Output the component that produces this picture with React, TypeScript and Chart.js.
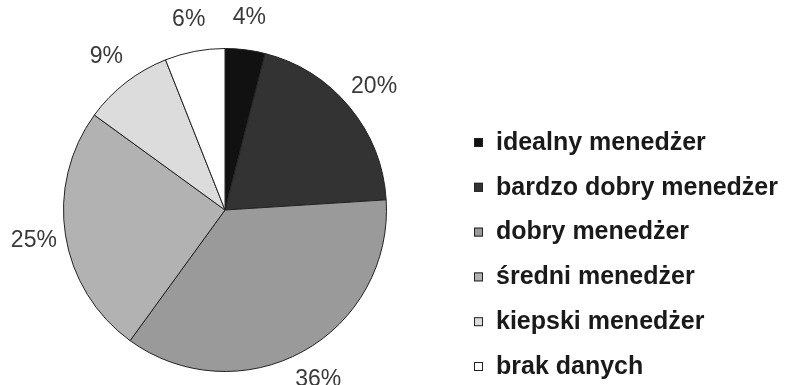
import { useEffect, useRef } from "react";
import { Chart, registerables } from "chart.js";

Chart.register(...registerables);

const categories = [
  "idealny menedżer",
  "bardzo dobry menedżer",
  "dobry menedżer",
  "średni menedżer",
  "kiepski menedżer",
  "brak danych",
];
const shares = [4, 20, 36, 25, 9, 6];
const percentLabels = ["4%", "20%", "36%", "25%", "9%", "6%"];
const sliceColors = ["#111111", "#333333", "#9a9a9a", "#b2b2b2", "#dcdcdc", "#ffffff"];

const FONT = "'Liberation Sans', Arial, sans-serif";

const sliceLabelPlugin = {
  id: "sliceLabels",
  afterDatasetsDraw(chart: any) {
    const ctx = chart.ctx;
    const meta = chart.getDatasetMeta(0);
    ctx.save();
    ctx.font = `23px ${FONT}`;
    ctx.fillStyle = "#3a3a3a";
    ctx.textAlign = "center";
    ctx.textBaseline = "middle";
    meta.data.forEach((arc: any, i: number) => {
      const p = arc.getProps(["x", "y", "startAngle", "endAngle", "outerRadius"], true);
      const mid = (p.startAngle + p.endAngle) / 2;
      const R = p.outerRadius + 32;
      ctx.fillText(percentLabels[i], p.x + Math.cos(mid) * R, p.y + Math.sin(mid) * R);
    });
    ctx.restore();
  },
};

const legendPlugin = {
  id: "sideLegend",
  afterDraw(chart: any) {
    const ctx = chart.ctx;
    const labels = chart.data.labels as string[];
    const colors = chart.data.datasets[0].backgroundColor as string[];
    const x0 = 474;
    const y0 = 142;
    const step = 44.8;
    ctx.save();
    ctx.font = `bold 25px ${FONT}`;
    ctx.textBaseline = "middle";
    ctx.textAlign = "left";
    labels.forEach((lab, i) => {
      const y = y0 + i * step;
      ctx.fillStyle = colors[i];
      ctx.fillRect(x0, y - 4, 9, 9);
      ctx.strokeStyle = "#222";
      ctx.lineWidth = 1;
      ctx.strokeRect(x0 + 0.5, y - 3.5, 8, 8);
      ctx.fillStyle = "#1a1a1a";
      ctx.fillText(lab, x0 + 22, y + 1);
    });
    ctx.restore();
  },
};

export default function App() {
  const ref = useRef<HTMLCanvasElement | null>(null);
  useEffect(() => {
    if (!ref.current) return;
    const chart = new Chart(ref.current, {
      type: "pie",
      data: {
        labels: categories,
        datasets: [
          {
            data: shares,
            backgroundColor: sliceColors,
            borderColor: "#222222",
            borderWidth: 1,
          },
        ],
      },
      options: {
        animation: false,
        responsive: false,
        rotation: 0,
        layout: { padding: { left: 63, right: 404, top: 48, bottom: 13 } },
        plugins: {
          legend: { display: false },
          tooltip: { enabled: false },
        },
      },
      plugins: [sliceLabelPlugin, legendPlugin],
    });
    return () => chart.destroy();
  }, []);
  return (
    <div style={{ position: "fixed", left: 0, top: 0, width: 791, height: 385, background: "#fff" }}>
      <canvas ref={ref} width={791} height={385} />
    </div>
  );
}
